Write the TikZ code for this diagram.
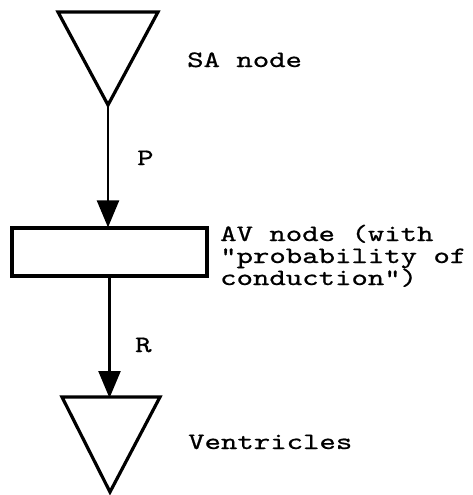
\documentclass[tikz,border=0pt]{standalone}
\usepackage{fontspec}
\newfontfamily\twfont{lmmono10-regular.otf}[FakeStretch=1.33,FakeBold=0.7]
\usetikzlibrary{arrows.meta}
\tikzset{
  shapeline/.style={line width=3.2pt, line join=miter},
  conn/.style={line width=2.4pt, -{Triangle[width=22pt,length=27pt]}, shorten >=-1pt},
  lbl/.style={anchor=base west, inner sep=0pt, font=\twfont\fontsize{23.5}{22}\selectfont, align=left},
  avbox/.style={draw, line width=3.2pt, minimum width=195pt, minimum height=48pt, inner sep=0pt}
}
\begin{document}
\begin{tikzpicture}[x=1pt,y=-1pt]
\useasboundingbox (0,0) rectangle (473,495);
% SA node triangle
\coordinate (saL) at (58,12);
\coordinate (saR) at (158,12);
\coordinate (sa) at (108,105);
\draw[shapeline] (saL) -- (saR) -- (sa) -- cycle;
% AV node rectangle
\node[avbox] (av) at (109.5,252) {};
% Ventricles triangle
\coordinate (vL) at (62,397);
\coordinate (vR) at (160,397);
\coordinate (vtop) at (109.5,397);
\coordinate (vapex) at (110,492);
\draw[shapeline] (vL) -- (vR) -- (vapex) -- cycle;
% connectors
\draw[conn] (sa) -- (sa |- av.north);
\draw[conn] (av.south) -- (vtop);
% labels
\node[lbl] (tsa) at (187,67) {SA node};
\node[lbl] (tp) at (137,165) {P};
\node[lbl] (tav) at (220,285) {AV node (with\\"probability of\\conduction")};
\node[lbl] (tr) at (135,352) {R};
\node[lbl] (tv) at (188,449) {Ventricles};
\end{tikzpicture}
\end{document}
